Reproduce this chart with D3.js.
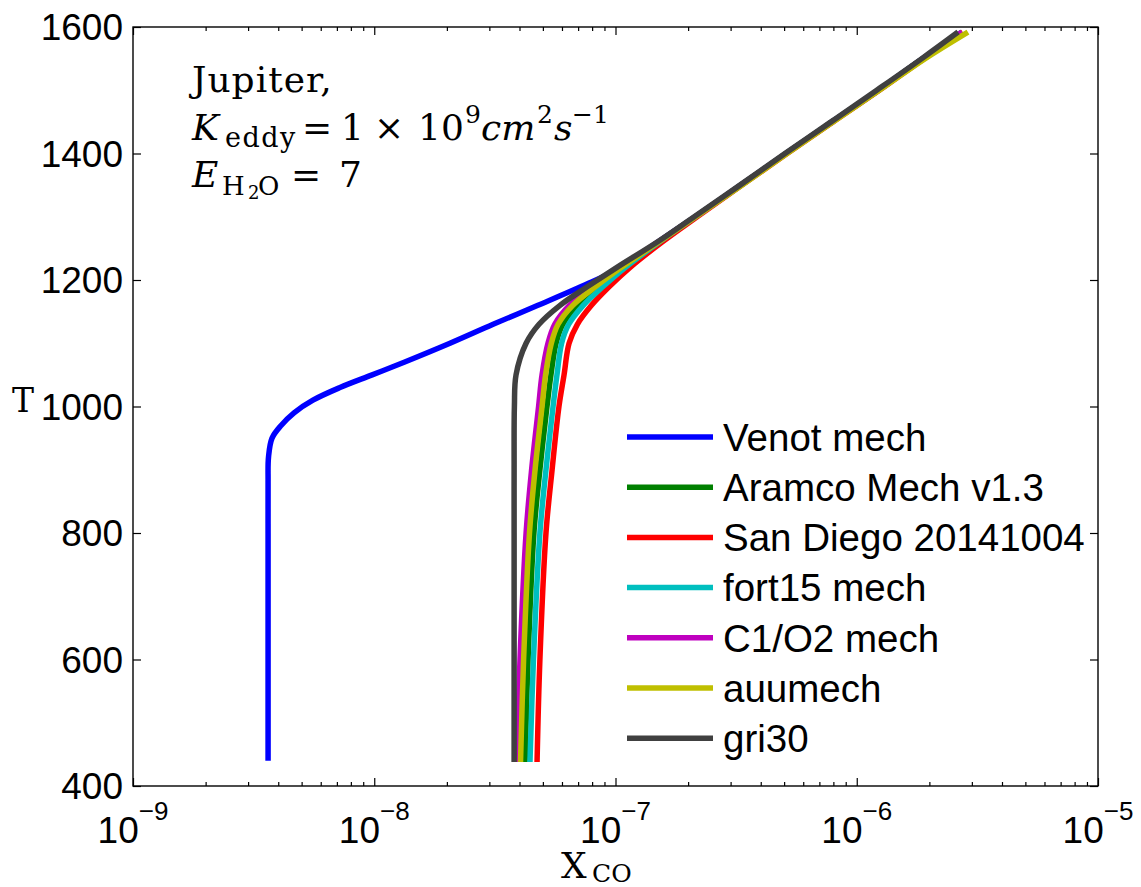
<!DOCTYPE html>
<html>
<head>
<meta charset="utf-8">
<script src="https://cdn.jsdelivr.net/npm/d3@7"></script>
<style>
  body { margin: 0; background: #fff; }
  text { fill: #000; }
  .sans { font-family: "Liberation Sans", Arial, sans-serif; }
  .serif { font-family: "DejaVu Serif", "Liberation Serif", serif; }
</style>
</head>
<body>
<svg id="chart" width="1141" height="887"></svg>
<script>
/* data */
var venot_T = [440, 500, 600, 700, 800, 880, 920, 950, 970, 990, 1010, 1030, 1050, 1070, 1100, 1130, 1160, 1190, 1220, 1260, 1300, 1350, 1400, 1450, 1500, 1550, 1590];
var venot = [3.63e-9, 3.63e-9, 3.63e-9, 3.63e-9, 3.63e-9, 3.63e-9, 3.645e-9, 3.77e-9, 4.11e-9, 4.65e-9, 5.57e-9, 7.21e-9, 9.8e-9, 1.33e-8, 2.06e-8, 3.11e-8, 4.77e-8, 7.25e-8, 1.06e-7, 1.50e-7, 2.14e-7, 3.31e-7, 5.09e-7, 7.90e-7, 1.23e-6, 1.88e-6, 2.68e-6];

var mech_T = [438, 600, 800, 900, 1000, 1050, 1100, 1130, 1160, 1190, 1220, 1260, 1300, 1350, 1400, 1450, 1500, 1550, 1592];
var aramco = [4.22e-8, 4.34e-8, 4.59e-8, 4.86e-8, 5.20e-8, 5.40e-8, 5.67e-8, 6.05e-8, 6.95e-8, 8.60e-8, 1.08e-7, 1.51e-7, 2.14e-7, 3.31e-7, 5.09e-7, 7.90e-7, 1.23e-6, 1.88e-6, 2.73e-6];
var san_diego = [4.73e-8, 4.86e-8, 5.15e-8, 5.46e-8, 5.83e-8, 6.12e-8, 6.42e-8, 6.95e-8, 7.95e-8, 9.45e-8, 1.15e-7, 1.56e-7, 2.18e-7, 3.34e-7, 5.14e-7, 7.97e-7, 1.24e-6, 1.90e-6, 2.75e-6];
var fort15 = [4.42e-8, 4.57e-8, 4.86e-8, 5.15e-8, 5.51e-8, 5.72e-8, 5.98e-8, 6.40e-8, 7.35e-8, 8.90e-8, 1.10e-7, 1.52e-7, 2.15e-7, 3.31e-7, 5.09e-7, 7.90e-7, 1.23e-6, 1.88e-6, 2.73e-6];
var c1o2 = [3.91e-8, 4.02e-8, 4.26e-8, 4.49e-8, 4.80e-8, 4.96e-8, 5.25e-8, 5.60e-8, 6.45e-8, 8.06e-8, 1.04e-7, 1.50e-7, 2.14e-7, 3.31e-7, 5.09e-7, 7.90e-7, 1.23e-6, 1.88e-6, 2.73e-6];
var auumech = [4.04e-8, 4.16e-8, 4.40e-8, 4.64e-8, 4.96e-8, 5.13e-8, 5.42e-8, 5.78e-8, 6.65e-8, 8.30e-8, 1.06e-7, 1.51e-7, 2.15e-7, 3.34e-7, 5.14e-7, 7.97e-7, 1.24e-6, 1.92e-6, 2.89e-6];
var gri30 = [3.80e-8, 3.80e-8, 3.80e-8, 3.80e-8, 3.81e-8, 3.87e-8, 4.26e-8, 4.82e-8, 5.89e-8, 7.69e-8, 1.014e-7, 1.49e-7, 2.12e-7, 3.28e-7, 5.04e-7, 7.82e-7, 1.21e-6, 1.86e-6, 2.63e-6];

var series_names = ["Venot mech", "Aramco Mech v1.3", "San Diego 20141004", "fort15 mech", "C1/O2 mech", "auumech", "gri30"];
var series_colors = ["#0000ff", "#008000", "#ff0000", "#00bfbf", "#bf00bf", "#bfbf00", "#404040"];

var x_major = [1e-9, 1e-8, 1e-7, 1e-6, 1e-5];
var x_exponents = ["\u22129", "\u22128", "\u22127", "\u22126", "\u22125"];
var y_ticks = [400, 600, 800, 1000, 1200, 1400, 1600];

var plot = { left: 133, right: 1098, top: 27, bottom: 786 };

var svg = d3.select("#chart");

var x = d3.scaleLog().domain([1e-9, 1e-5]).range([plot.left, plot.right]);
var y = d3.scaleLinear().domain([400, 1600]).range([plot.bottom, plot.top]);

// minor ticks 2..9 inside each decade
var x_minor = [];
x_major.slice(0, -1).forEach(function(d){
	for (var k = 2; k < 10; k++) x_minor.push(d * k);
});

/* ---- curves ---- */
var line = d3.line()
	.x(function(d) { return x(d[0]); })
	.y(function(d) { return y(d[1]); })
	.curve(d3.curveCatmullRom.alpha(0.5));

var all_series = [
	{ T: venot_T, X: venot },
	{ T: mech_T, X: aramco },
	{ T: mech_T, X: san_diego },
	{ T: mech_T, X: fort15 },
	{ T: mech_T, X: c1o2 },
	{ T: mech_T, X: auumech },
	{ T: mech_T, X: gri30 }
];

var curves = svg.append("g").attr("class", "curves");
all_series.forEach(function(s, i){
	var pts = s.X.map(function(v, j) { return [v, s.T[j]]; });
	curves.append("path")
		.attr("d", line(pts))
		.attr("fill", "none")
		.attr("stroke", series_colors[i])
		.attr("stroke-width", 5.5)
		.attr("stroke-linejoin", "round");
});

/* ---- axes (ticks pointing inwards, box all round) ---- */
var tick_major = 8, tick_minor = 4;

function style_axis(g){
	g.select(".domain").remove();
	g.selectAll(".tick line").attr("stroke", "#000").attr("stroke-width", 1.2);
}

svg.append("g").attr("transform", "translate(0," + plot.bottom + ")")
	.call(d3.axisBottom(x).tickValues(x_major).tickSize(-tick_major).tickFormat(""))
	.call(style_axis);
svg.append("g").attr("transform", "translate(0," + plot.bottom + ")")
	.call(d3.axisBottom(x).tickValues(x_minor).tickSize(-tick_minor).tickFormat(""))
	.call(style_axis);
svg.append("g").attr("transform", "translate(0," + plot.top + ")")
	.call(d3.axisTop(x).tickValues(x_major).tickSize(-tick_major).tickFormat(""))
	.call(style_axis);
svg.append("g").attr("transform", "translate(0," + plot.top + ")")
	.call(d3.axisTop(x).tickValues(x_minor).tickSize(-tick_minor).tickFormat(""))
	.call(style_axis);

var y_left = svg.append("g").attr("transform", "translate(" + plot.left + ",0)")
	.call(d3.axisLeft(y).tickValues(y_ticks).tickSize(-tick_major).tickPadding(10).tickFormat(d3.format("d")))
	.call(style_axis);
y_left.selectAll(".tick text")
	.attr("class", "sans")
	.attr("font-size", 37)
	.attr("dy", "0.35em");

svg.append("g").attr("transform", "translate(" + plot.right + ",0)")
	.call(d3.axisRight(y).tickValues(y_ticks).tickSize(-tick_major).tickFormat(""))
	.call(style_axis);

svg.append("rect")
	.attr("x", plot.left).attr("y", plot.top)
	.attr("width", plot.right - plot.left).attr("height", plot.bottom - plot.top)
	.attr("fill", "none").attr("stroke", "#000").attr("stroke-width", 1.4);

// x tick labels 10^n
var xl = svg.append("g")
	.selectAll("text").data(x_major).enter().append("text")
	.attr("class", "sans")
	.attr("x", function(d) { return x(d); })
	.attr("y", 843)
	.attr("text-anchor", "middle")
	.attr("font-size", 37);
xl.append("tspan").text("10");
xl.append("tspan").attr("font-size", 26).attr("dy", -23)
	.text(function(d, i) { return x_exponents[i]; });

/* ---- axis titles ---- */
var xt = svg.append("text").attr("class", "serif");
xt.append("tspan").attr("x", 561).attr("y", 878).attr("font-size", 36).text("X");
xt.append("tspan").attr("x", 592).attr("y", 882).attr("font-size", 25).text("CO");

svg.append("text").attr("class", "serif")
	.attr("x", 12).attr("y", 412).attr("font-size", 33).text("T");

/* ---- annotation ---- */
var note = svg.append("g").attr("class", "serif");
note.append("text").attr("x", 192).attr("y", 92).attr("font-size", 36)
	.attr("letter-spacing", 1).text("Jupiter,");

var k = note.append("text").attr("font-size", 36);
k.append("tspan").attr("x", 192).attr("y", 140).attr("font-style", "italic").text("K");
k.append("tspan").attr("x", 225).attr("y", 147).attr("font-size", 27).attr("letter-spacing", 1.5).text("eddy");
k.append("tspan").attr("x", 302).attr("y", 140).text("=");
k.append("tspan").attr("x", 341).attr("y", 140).text("1");
k.append("tspan").attr("x", 374).attr("y", 140).text("\u00d7");
k.append("tspan").attr("x", 418).attr("y", 140).text("10");
k.append("tspan").attr("x", 465).attr("y", 123).attr("font-size", 25).text("9");
k.append("tspan").attr("x", 481).attr("y", 140).attr("font-style", "italic").text("cm");
k.append("tspan").attr("x", 537).attr("y", 123).attr("font-size", 25).text("2");
k.append("tspan").attr("x", 554).attr("y", 140).attr("font-style", "italic").text("s");
k.append("tspan").attr("x", 572).attr("y", 123).attr("font-size", 25).text("\u22121");

var e = note.append("text").attr("font-size", 36);
e.append("tspan").attr("x", 192).attr("y", 187).attr("font-style", "italic").text("E");
e.append("tspan").attr("x", 222).attr("y", 195).attr("font-size", 26).text("H");
e.append("tspan").attr("x", 248).attr("y", 199).attr("font-size", 18).text("2");
e.append("tspan").attr("x", 258).attr("y", 195).attr("font-size", 26).text("O");
e.append("tspan").attr("x", 291).attr("y", 187).text("=");
e.append("tspan").attr("x", 339).attr("y", 187).text("7");

/* ---- legend ---- */
var legend = svg.append("g").attr("class", "legend")
	.selectAll("g").data(series_names).enter().append("g")
	.attr("transform", function(d, i) { return "translate(627," + (437 + i * 50.2) + ")"; });

legend.append("line")
	.attr("x1", 0).attr("x2", 86)
	.attr("stroke", function(d, i) { return series_colors[i]; })
	.attr("stroke-width", 5.5);

legend.append("text")
	.attr("class", "sans")
	.attr("x", 96).attr("dy", "0.36em")
	.attr("font-size", 38.5)
	.text(function(d) { return d; });
</script>
</body>
</html>
